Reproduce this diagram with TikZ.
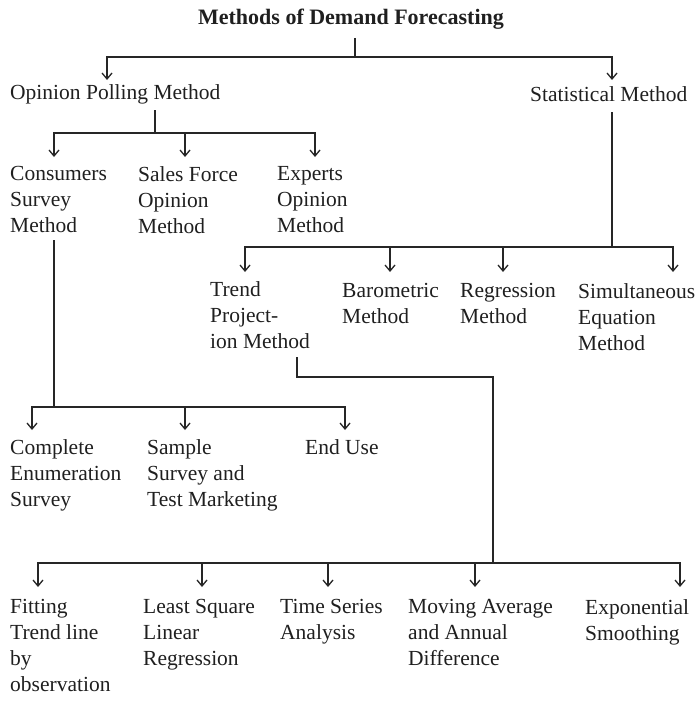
\documentclass[tikz,border=0pt]{standalone}
\usepackage{fontspec}
\setmainfont{Liberation Serif}
\usetikzlibrary{arrows.meta}
\begin{document}
\begin{tikzpicture}[x=1pt,y=-1pt,
  lbl/.style={anchor=north west,inner sep=0pt,align=left,font=\fontsize{21.5}{26}\selectfont,text=black!88},
  ttl/.style={inner sep=0pt,font=\fontsize{22}{26}\selectfont\bfseries,text=black!88},
  ln/.style={line width=1.5pt,draw=black!85,line join=miter},
  arr/.style={ln,-{Straight Barb[length=6pt,width=10pt,line width=1.3pt]}}]
\useasboundingbox (0,0) rectangle (698,701);

% nodes
\node[ttl] (title) at (351,19) {Methods of Demand Forecasting};
\node[lbl] (op) at (10,84) {Opinion Polling Method};
\node[lbl] (stat) at (530,86) {Statistical Method};
\node[lbl] (cons) at (10,166) {Consumers\\Survey\\Method};
\node[lbl] (sales) at (138,166) {Sales Force\\Opinion\\Method};
\node[lbl] (expt) at (277,166) {Experts\\Opinion\\Method};
\node[lbl] (trend) at (210,281) {Trend\\Project-\\ion Method};
\node[lbl] (baro) at (342,283) {Barometric\\Method};
\node[lbl] (regr) at (460,283) {Regression\\Method};
\node[lbl] (simu) at (578,283) {Simultaneous\\Equation\\Method};
\node[lbl] (comp) at (10,439) {Complete\\Enumeration\\Survey};
\node[lbl] (samp) at (147,439) {Sample\\Survey and\\Test Marketing};
\node[lbl] (enduse) at (305,439) {End Use};
\node[lbl] (fit) at (10,599) {Fitting\\Trend line\\by\\observation};
\node[lbl] (least) at (143,599) {Least Square\\Linear\\Regression};
\node[lbl] (tser) at (280,599) {Time Series\\Analysis};
\node[lbl] (mov) at (408,599) {Moving Average\\and Annual\\Difference};
\node[lbl] (expo) at (585,599) {Exponential\\Smoothing};

% level 1
\coordinate (t1) at (355,38);
\coordinate (b1) at (355,57);
\coordinate (aop) at (107,80);
\coordinate (ast) at (612,80);
\draw[arr] (t1) -- (b1) -| (aop);
\draw[arr] (b1) -| (ast);

% opinion polling
\coordinate (o1) at (155,110);
\coordinate (b2) at (155,133);
\coordinate (acons) at (54,157);
\coordinate (asales) at (185,157);
\coordinate (aexp) at (315,157);
\draw[arr] (o1) -- (b2) -| (acons);
\draw[arr] (b2) -| (asales);
\draw[arr] (b2) -| (aexp);

% statistical
\coordinate (s1) at (612,112);
\coordinate (b3) at (612,247);
\coordinate (atr) at (245,272);
\coordinate (aba) at (390,272);
\coordinate (are) at (503,272);
\coordinate (asi) at (673,272);
\draw[arr] (s1) -- (b3) -| (atr);
\draw[arr] (b3) -| (aba);
\draw[arr] (b3) -| (are);
\draw[arr] (b3) -| (asi);

% consumers survey
\coordinate (c1) at (54,240);
\coordinate (b4) at (54,407);
\coordinate (aco) at (32,430);
\coordinate (asa) at (185,430);
\coordinate (aen) at (345,430);
\draw[arr] (c1) -- (b4) -| (aco);
\draw[arr] (b4) -| (asa);
\draw[arr] (b4) -| (aen);

% trend projection
\coordinate (p1) at (297,357);
\coordinate (p2) at (297,377);
\coordinate (b5) at (493,563);
\coordinate (afi) at (38,587);
\coordinate (ale) at (202,587);
\coordinate (ati) at (328,587);
\coordinate (amo) at (475,587);
\coordinate (aex) at (680,587);
\draw[ln] (p1) -- (p2) -| (b5);
\draw[arr] (b5) -| (afi);
\draw[arr] (b5) -| (ale);
\draw[arr] (b5) -| (ati);
\draw[arr] (b5) -| (amo);
\draw[arr] (b5) -| (aex);
\end{tikzpicture}
\end{document}
